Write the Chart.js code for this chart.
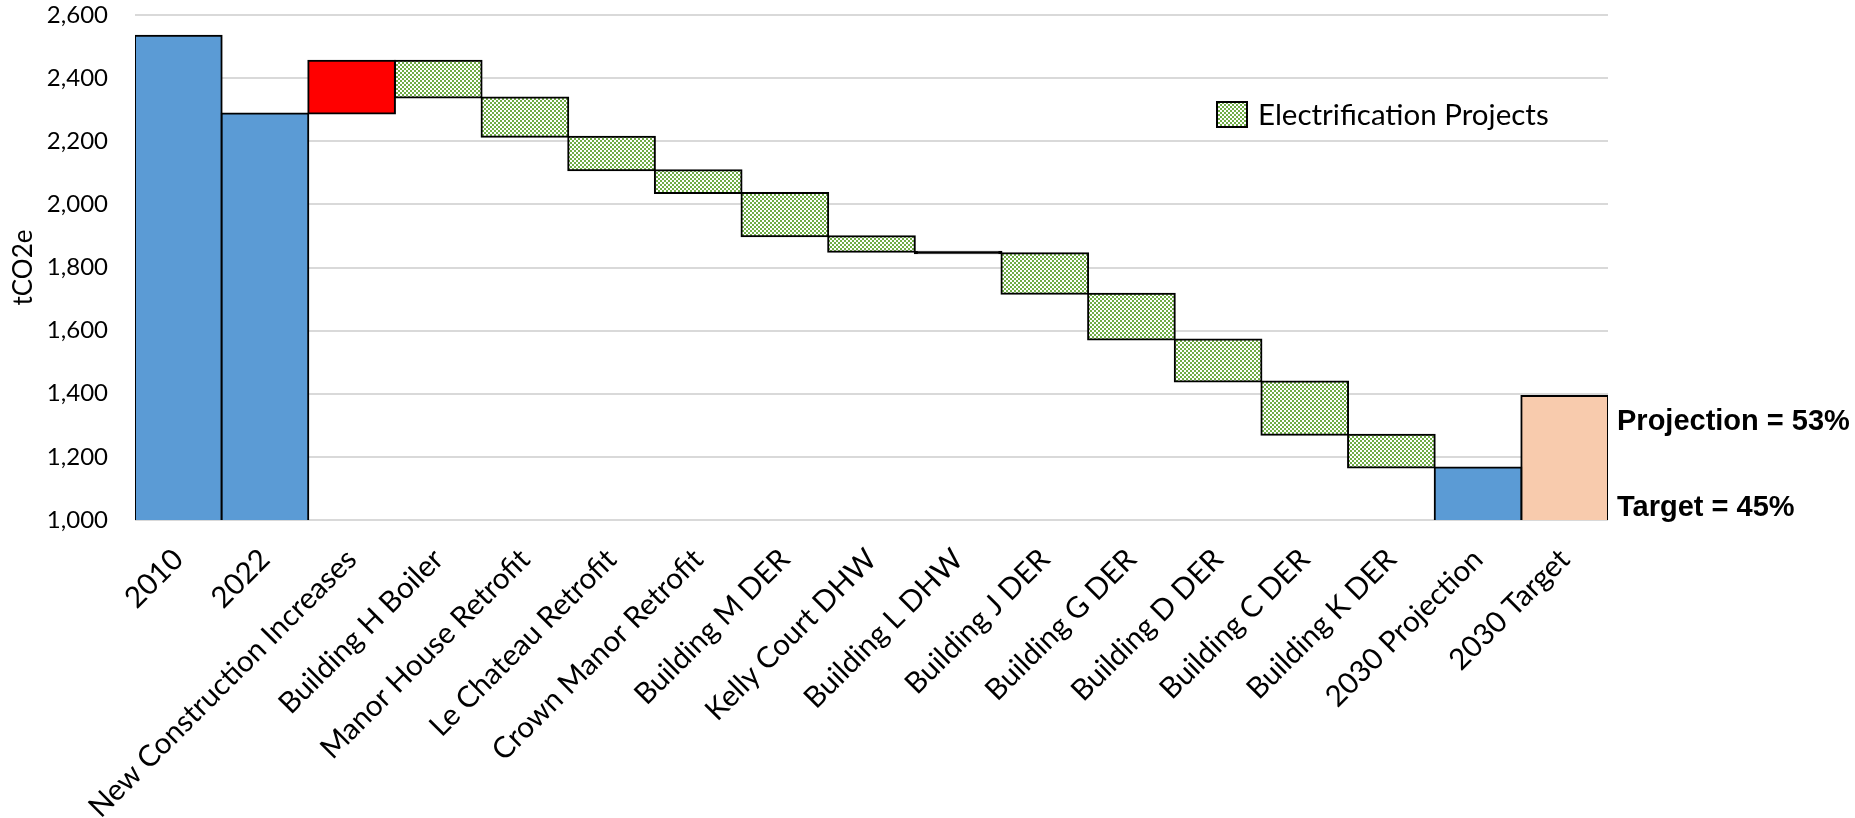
<!DOCTYPE html>
<html>
<head>
<meta charset="utf-8">
<script src="https://cdn.jsdelivr.net/npm/chart.js@4.4.1/dist/chart.umd.min.js"></script>
<style>
  html, body { margin: 0; padding: 0; background: #ffffff; }
  canvas { display: block; }
</style>
</head>
<body>
<canvas id="chart" width="1855" height="818"></canvas>
<script>
// Emissions pathway, tCO2e
const startYears = ['2010', '2022'];
const startEmissions = [2534, 2288];
const increaseLabel = 'New Construction Increases';
const constructionIncrease = 167;
const projectNames = [
  'Building H Boiler', 'Manor House Retrofit', 'Le Chateau Retrofit', 'Crown Manor Retrofit',
  'Building M DER', 'Kelly Court DHW', 'Building L DHW', 'Building J DER',
  'Building G DER', 'Building D DER', 'Building C DER', 'Building K DER'
];
const projectReductions = [116, 125, 106, 72, 137, 49, 5, 128, 145, 133, 169, 104];
const endLabels = ['2030 Projection', '2030 Target'];
const targetEmissions = 1393;
const yTicks = [1000, 1200, 1400, 1600, 1800, 2000, 2200, 2400, 2600];
const noteLabels = ['Projection = 53%', 'Target = 45%'];

const categories = [...startYears, increaseLabel, ...projectNames, ...endLabels];
const n = categories.length;

// Running waterfall totals
const emptyRow = () => new Array(n).fill(null);
const baseData = emptyRow();
const increaseData = emptyRow();
const projectData = emptyRow();
const targetData = emptyRow();

baseData[0] = startEmissions[0];
baseData[1] = startEmissions[1];
let level = startEmissions[1];
increaseData[2] = [level, level + constructionIncrease];
level += constructionIncrease;
projectReductions.forEach((r, i) => {
  projectData[3 + i] = [level - r, level];
  level -= r;
});
baseData[n - 2] = level;
targetData[n - 1] = targetEmissions;

// Small green checkerboard fill
function checkerPattern() {
  const c = document.createElement('canvas');
  c.width = 4; c.height = 4;
  const g = c.getContext('2d');
  g.fillStyle = '#ffffff';
  g.fillRect(0, 0, 4, 4);
  g.fillStyle = '#6FAC46';
  g.fillRect(0, 0, 2, 2);
  g.fillRect(2, 2, 2, 2);
  return g.createPattern(c, 'repeat');
}
const ctx = document.getElementById('chart').getContext('2d');
const checker = checkerPattern();

// Very thin steps collapse to their outline
function projectFill(context) {
  const v = context.raw;
  if (Array.isArray(v) && Math.abs(v[1] - v[0]) < 10) return '#000000';
  return checker;
}

const commonBar = {
  grouped: false,
  barPercentage: 1,
  categoryPercentage: 1,
  borderColor: '#000000',
  borderWidth: 2,
  inflateAmount: 1
};

// Legend entry drawn inside the plot area
const legendInPlot = {
  id: 'legendInPlot',
  afterDraw(chart) {
    const { ctx, chartArea } = chart;
    const x = chartArea.right - 391;
    const y = chartArea.top + 87;
    ctx.save();
    ctx.fillStyle = checker;
    ctx.fillRect(x, y, 30, 25);
    ctx.strokeStyle = '#000000';
    ctx.lineWidth = 2;
    ctx.strokeRect(x, y, 30, 25);
    ctx.fillStyle = '#000000';
    ctx.font = '29.5px Lato';
    ctx.textBaseline = 'middle';
    ctx.textAlign = 'left';
    ctx.fillText(chart.data.datasets[2].label, x + 41, y + 13);
    ctx.restore();
  }
};

// Reduction notes beside the target bar
const sideNotes = {
  id: 'sideNotes',
  afterDraw(chart) {
    const { ctx, chartArea, scales } = chart;
    ctx.save();
    ctx.fillStyle = '#000000';
    ctx.font = 'bold 29px "Liberation Sans"';
    ctx.textBaseline = 'middle';
    ctx.textAlign = 'left';
    ctx.fillText(noteLabels[0], chartArea.right + 9, scales.y.getPixelForValue(1310));
    ctx.fillText(noteLabels[1], chartArea.right + 9, scales.y.getPixelForValue(1037));
    ctx.restore();
  }
};

new Chart(ctx, {
  type: 'bar',
  data: {
    labels: categories,
    datasets: [
      { ...commonBar, label: 'Emissions', data: baseData, backgroundColor: '#5B9BD5' },
      { ...commonBar, label: 'Increases', data: increaseData, backgroundColor: '#FF0000', borderSkipped: false },
      { ...commonBar, label: 'Electrification Projects', data: projectData, backgroundColor: projectFill, borderSkipped: false },
      { ...commonBar, label: 'Target', data: targetData, backgroundColor: '#F8CBAD' }
    ]
  },
  options: {
    responsive: false,
    devicePixelRatio: 1,
    animation: false,
    layout: { padding: { top: 15, right: 247, left: 0, bottom: 0 } },
    plugins: {
      legend: { display: false },
      tooltip: { enabled: false }
    },
    scales: {
      x: {
        grid: { display: false, drawTicks: false },
        border: { display: false },
        ticks: {
          color: '#000000',
          font: { family: 'Lato', size: 29.5 },
          minRotation: 45,
          maxRotation: 45,
          autoSkip: false,
          padding: 22
        },
        afterFit(scale) {
          scale.height = 298;
          scale.paddingLeft = 0;
          scale.paddingRight = 0;
        }
      },
      y: {
        min: 1000,
        max: 2600,
        afterBuildTicks(scale) { scale.ticks = yTicks.map(v => ({ value: v })); },
        grid: { color: '#d9d9d9', lineWidth: 2, drawTicks: false },
        border: { display: false },
        ticks: {
          color: '#000000',
          font: { family: 'Lato', size: 24 },
          padding: 27,
          callback: v => v.toLocaleString('en-US')
        },
        title: {
          display: true,
          text: 'tCO2e',
          color: '#000000',
          font: { family: 'Lato', size: 26 },
          padding: { top: 8, bottom: 0 }
        },
        afterFit(scale) {
          scale.width = 135;
          scale.paddingTop = 0;
          scale.paddingBottom = 0;
        }
      }
    }
  },
  plugins: [legendInPlot, sideNotes]
});
</script>
</body>
</html>
